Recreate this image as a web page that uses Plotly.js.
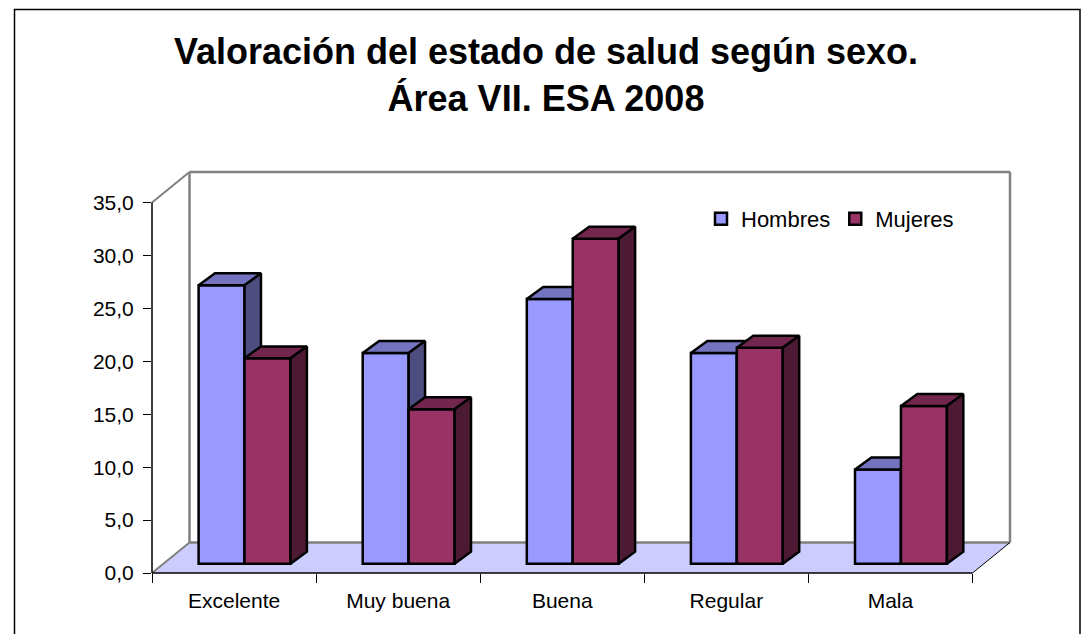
<!DOCTYPE html>
<html><head><meta charset="utf-8">
<script src="https://cdn.plot.ly/plotly-3.0.1.min.js"></script>
<style>html,body{margin:0;padding:0;background:#fff}</style>
</head><body><div id="chart" style="width:1084px;height:634px"></div>
<script>
// ---- data ----
const categories = ['Excelente', 'Muy buena', 'Buena', 'Regular', 'Mala'];
const seriesNames = ['Hombres', 'Mujeres'];
const hombres = [26.3, 19.9, 25.0, 19.9, 8.9];
const mujeres = [19.4, 14.6, 30.7, 20.4, 14.9];
const yTickVals = [0, 5, 10, 15, 20, 25, 30, 35];
const yTickText = ['0,0', '5,0', '10,0', '15,0', '20,0', '25,0', '30,0', '35,0'];
const titleLines = ['Valoración del estado de salud según sexo.', 'Área VII. ESA 2008'];

// ---- geometry / style ----
const W = 1084, H = 634, L = 152, R = 74, T = 172, B = 61;
const FONT = 'Liberation Sans, Arial, sans-serif';
const YAXIS_MAX = 35;
const DEPTH_X = 0.2285, DEPTH_Y = 2.885;      // floor depth (data units)
const XMAX = categories.length + DEPTH_X, YMAX = YAXIS_MAX + DEPTH_Y;
const BAR_W = 0.28, BAR_OX = 0.064, BAR_OY = 0.88, BAR_DX = 0.1, BAR_DY = 1.13;
const styles = [
  {front: '#9999ff', top: '#7373bf', side: '#4d4d80'},
  {front: '#993366', top: '#73264d', side: '#4d1a33'}
];
const EDGE = {color: '#000000', width: 2.5};

const traces = [];
[hombres, mujeres].forEach((vals, s) => {
  const xa = s === 0 ? 'x' : 'x2', ya = s === 0 ? 'y' : 'y2';
  const centers = categories.map((c, i) => i + 0.5 + BAR_OX - BAR_W / 2 + s * BAR_W);
  traces.push({
    type: 'bar', name: seriesNames[s], x: centers, y: vals, base: BAR_OY, width: BAR_W,
    marker: {color: styles[s].front, line: EDGE}, xaxis: xa, yaxis: ya,
    hoverinfo: 'skip'
  });
  vals.forEach((v, i) => {
    const xl = centers[i] - BAR_W / 2, xr = centers[i] + BAR_W / 2, t = BAR_OY + v;
    traces.push({
      type: 'scatter', mode: 'lines', fill: 'toself', fillcolor: styles[s].top,
      x: [xl, xr, xr + BAR_DX, xl + BAR_DX, xl], y: [t, t, t + BAR_DY, t + BAR_DY, t],
      line: EDGE, showlegend: false, hoverinfo: 'skip', xaxis: xa, yaxis: ya
    });
    traces.push({
      type: 'scatter', mode: 'lines', fill: 'toself', fillcolor: styles[s].side,
      x: [xr, xr, xr + BAR_DX, xr + BAR_DX, xr], y: [BAR_OY, t, t + BAR_DY, BAR_OY + BAR_DY, BAR_OY],
      line: EDGE, showlegend: false, hoverinfo: 'skip', xaxis: xa, yaxis: ya
    });
  });
});

// frame helpers (data -> paper) for the 3D box decoration
const px = x => x / XMAX, py = y => y / YMAX;
const pw = W - L - R, ph = H - T - B;
function seg(x0, y0, x1, y1, color, width) {
  return {type: 'line', xref: 'paper', yref: 'paper', x0: px(x0), y0: py(y0), x1: px(x1), y1: py(y1),
          line: {color: color, width: width}, layer: 'below'};
}
const n = categories.length;
const GRAY = '#808080';
const shapes = [
  {type: 'path', xref: 'paper', yref: 'paper', layer: 'below',
   path: `M ${px(0)} ${py(0)} L ${px(n)} ${py(0)} L ${px(XMAX)} ${py(DEPTH_Y)} L ${px(DEPTH_X)} ${py(DEPTH_Y)} Z`,
   fillcolor: '#ccccff', line: {width: 0}},
  seg(DEPTH_X, DEPTH_Y, DEPTH_X, YMAX, GRAY, 2.5),
  seg(DEPTH_X, YMAX, XMAX, YMAX, GRAY, 2.5),
  seg(XMAX, DEPTH_Y, XMAX, YMAX, GRAY, 2.5),
  seg(DEPTH_X, DEPTH_Y, XMAX, DEPTH_Y, GRAY, 2.5),
  seg(0, 0, DEPTH_X, DEPTH_Y, GRAY, 2),
  seg(0, YAXIS_MAX, DEPTH_X, YMAX, GRAY, 2),
  seg(0, 0, 0, YAXIS_MAX, '#000000', 1.5),
  seg(0, 0, n, 0, '#000000', 1.5),
  seg(n, 0, XMAX, DEPTH_Y, '#000000', 1),
  {type: 'rect', xref: 'paper', yref: 'paper', layer: 'below',
   x0: (14.5 - L) / pw, x1: (1080 - L) / pw, y0: (H - B - 645) / ph, y1: (H - B - 9.5) / ph,
   line: {color: '#000000', width: 1.5}, fillcolor: 'rgba(0,0,0,0)'}
];

const layout = {
  width: W, height: H,
  margin: {l: L, r: R, t: T, b: B, pad: 0},
  paper_bgcolor: '#ffffff', plot_bgcolor: 'rgba(0,0,0,0)',
  font: {family: FONT, color: '#000000', size: 21},
  title: {text: '<b>' + titleLines.join('<br>') + '</b>', font: {family: FONT, size: 36, color: '#000000'},
          x: 546 / W, xanchor: 'center', y: 1 - 64 / H, yanchor: 'middle'},
  barmode: 'overlay',
  showlegend: true,
  legend: {orientation: 'h', x: (701 - L) / pw, xanchor: 'left', y: (H - B - 219) / ph, yanchor: 'middle',
           font: {family: FONT, size: 22, color: '#000000'}, bgcolor: 'rgba(0,0,0,0)', itemwidth: 30,
           traceorder: 'normal'},
  xaxis: {range: [0, XMAX], showgrid: false, zeroline: false, showline: false, tickmode: 'array',
          tickvals: categories.map((c, i) => i).concat([n]), ticks: 'outside', ticklen: 9, tickwidth: 1,
          tickcolor: '#000000', showticklabels: false, fixedrange: true},
  xaxis2: {overlaying: 'x', anchor: 'y2', range: [0, XMAX], showgrid: false, zeroline: false, showline: false,
           tickmode: 'array', tickvals: categories.map((c, i) => i + 0.5), ticktext: categories, ticks: '',
           tickfont: {family: FONT, size: 21, color: '#000000'}, ticklabelstandoff: 13, fixedrange: true},
  yaxis: {range: [0, YMAX], showgrid: false, zeroline: false, showline: false, tickmode: 'array',
          tickvals: yTickVals, ticktext: yTickText, ticks: 'outside', ticklen: 8, tickwidth: 1, tickcolor: '#000000',
          tickfont: {family: FONT, size: 21, color: '#000000'}, ticklabelstandoff: 5, fixedrange: true},
  yaxis2: {overlaying: 'y', range: [0, YMAX], visible: false, fixedrange: true},
  shapes: shapes
};

Plotly.newPlot('chart', traces, layout, {displayModeBar: false, staticPlot: true});
</script>
</body></html>
